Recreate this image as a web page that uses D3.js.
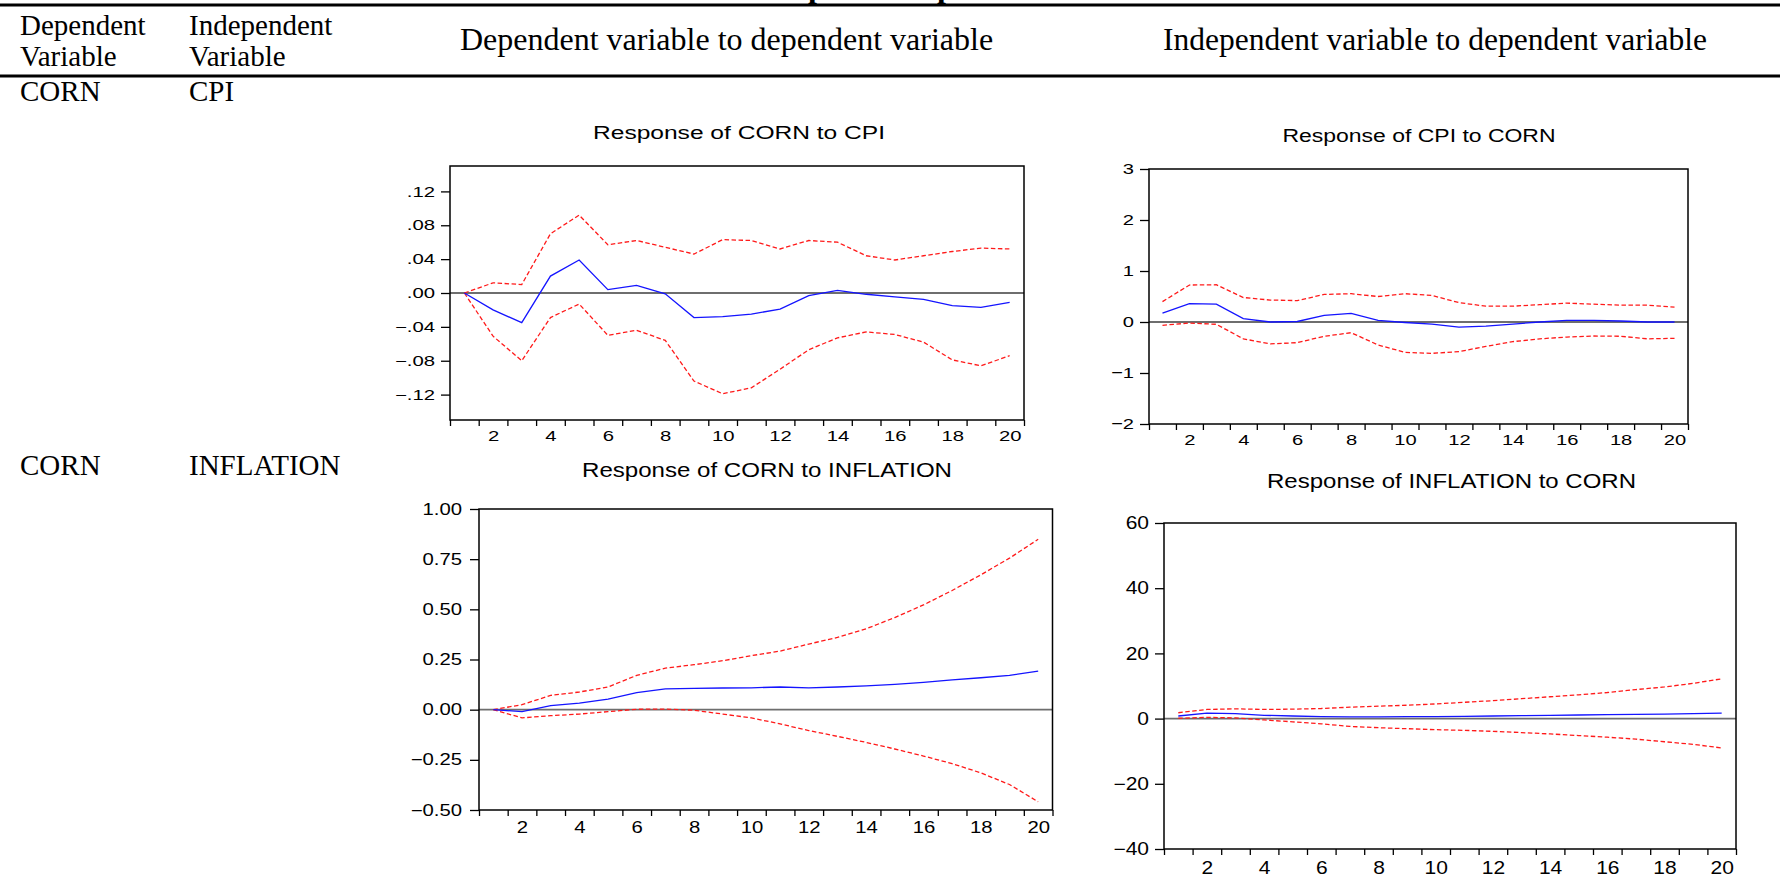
<!DOCTYPE html>
<html>
<head>
<meta charset="utf-8">
<script src="https://cdn.jsdelivr.net/npm/d3@7"></script>
<style>
  html, body { margin: 0; padding: 0; background: #fff; }
  svg { display: block; }
</style>
</head>
<body>
<svg id="fig" width="1780" height="878"></svg>
<script>
// ---- data -------------------------------------------------------------
const periods = [1, 2, 3, 4, 5, 6, 7, 8, 9, 10, 11, 12, 13, 14, 15, 16, 17, 18, 19, 20];
const xTickLabels = [2, 4, 6, 8, 10, 12, 14, 16, 18, 20];

// Response of CORN to CPI
const cornCpiResp  = [0, -0.020, -0.035, 0.020, 0.039, 0.004, 0.009, -0.001, -0.029, -0.028, -0.025, -0.019, -0.003, 0.003, -0.0015, -0.0045, -0.0075, -0.015, -0.017, -0.011];
const cornCpiUpper = [0, 0.012, 0.010, 0.070, 0.092, 0.057, 0.062, 0.054, 0.046, 0.063, 0.062, 0.052, 0.062, 0.060, 0.044, 0.039, 0.044, 0.049, 0.053, 0.052];
const cornCpiLower = [0, -0.051, -0.080, -0.029, -0.013, -0.050, -0.044, -0.056, -0.104, -0.119, -0.112, -0.090, -0.067, -0.053, -0.046, -0.049, -0.058, -0.079, -0.086, -0.074];
const cornCpiTicks = [-0.12, -0.08, -0.04, 0, 0.04, 0.08, 0.12];

// Response of CPI to CORN
const cpiCornResp  = [0.176, 0.36, 0.35, 0.065, 0.0, 0.01, 0.13, 0.17, 0.03, -0.01, -0.04, -0.10, -0.08, -0.04, 0.0, 0.03, 0.03, 0.02, 0.0, 0.0];
const cpiCornUpper = [0.40, 0.725, 0.73, 0.48, 0.43, 0.42, 0.54, 0.555, 0.50, 0.555, 0.52, 0.38, 0.31, 0.31, 0.34, 0.37, 0.35, 0.33, 0.33, 0.29];
const cpiCornLower = [-0.065, -0.02, -0.045, -0.33, -0.43, -0.405, -0.28, -0.21, -0.45, -0.595, -0.615, -0.58, -0.48, -0.385, -0.33, -0.295, -0.275, -0.28, -0.33, -0.32];
const cpiCornTicks = [-2, -1, 0, 1, 2, 3];

// Response of CORN to INFLATION
const cornInflResp  = [0, -0.010, 0.020, 0.033, 0.053, 0.085, 0.104, 0.106, 0.108, 0.109, 0.113, 0.109, 0.113, 0.119, 0.126, 0.136, 0.148, 0.159, 0.171, 0.192];
const cornInflUpper = [0, 0.025, 0.071, 0.088, 0.113, 0.171, 0.207, 0.224, 0.244, 0.269, 0.292, 0.327, 0.360, 0.403, 0.459, 0.522, 0.594, 0.672, 0.755, 0.849];
const cornInflLower = [0, -0.041, -0.030, -0.022, -0.010, 0.002, 0.003, -0.003, -0.022, -0.041, -0.071, -0.104, -0.133, -0.163, -0.196, -0.231, -0.269, -0.315, -0.373, -0.459];
const cornInflTicks = [-0.50, -0.25, 0, 0.25, 0.50, 0.75, 1.00];

// Response of INFLATION to CORN
const inflCornResp  = [0.8, 1.7, 1.5, 1.0, 0.8, 0.6, 0.5, 0.5, 0.6, 0.6, 0.7, 0.8, 0.9, 1.0, 1.1, 1.2, 1.3, 1.4, 1.5, 1.7];
const inflCornUpper = [1.8, 2.8, 3.0, 2.8, 2.9, 3.1, 3.5, 3.8, 4.1, 4.5, 5.0, 5.5, 6.1, 6.7, 7.3, 8.0, 8.9, 9.7, 10.8, 12.2];
const inflCornLower = [0.1, 0.4, 0.2, -0.4, -1.0, -1.6, -2.4, -2.8, -3.1, -3.4, -3.6, -3.9, -4.3, -4.7, -5.2, -5.7, -6.3, -7.1, -7.9, -9.0];
const inflCornTicks = [-40, -20, 0, 20, 40, 60];

// table text
const tableTitle = "Impulse Response";
const headDep = ["Dependent", "Variable"];
const headIndep = ["Independent", "Variable"];
const headCol3 = "Dependent variable to dependent variable";
const headCol4 = "Independent variable to dependent variable";
const rowDep = ["CORN", "CORN"];
const rowIndep = ["CPI", "INFLATION"];

// ---- drawing -----------------------------------------------------------
const svg = d3.select("#fig");
const SERIF = "'Liberation Serif','Times New Roman',serif";
const SANS = "'Liberation Sans',Arial,sans-serif";

function label(x, y, s, size, opts = {}) {
  return svg.append("text")
    .attr("x", x).attr("y", y)
    .attr("font-family", opts.family || SERIF)
    .attr("font-size", size)
    .attr("font-weight", opts.weight || "normal")
    .attr("fill", "#000")
    .text(s);
}

// table rules
svg.append("line").attr("x1", 0).attr("x2", 1780).attr("y1", 5).attr("y2", 5)
  .attr("stroke", "#000").attr("stroke-width", 3);
svg.append("line").attr("x1", 0).attr("x2", 1780).attr("y1", 76).attr("y2", 76)
  .attr("stroke", "#000").attr("stroke-width", 3);

// caption running off the top edge
label(769, -3, tableTitle, 32, { weight: "bold" });

// header cells
label(20, 35, headDep[0], 29);
label(20, 66, headDep[1], 29);
label(189, 35, headIndep[0], 29);
label(189, 66, headIndep[1], 29);
label(460, 50, headCol3, 32);
label(1163, 50, headCol4, 31.5);

// row cells
label(20, 101, rowDep[0], 29);
label(189, 101, rowIndep[0], 29);
label(20, 475, rowDep[1], 29);
label(189, 475, rowIndep[1], 29);

// tick formats
const fmtDot = d => (d === 0 ? ".00" : d3.format(".2f")(d).replace("0.", "."));
const fmtInt = d3.format("d");
const fmt2 = d3.format(".2f");

const panels = [
  { title: "Response of CORN to CPI", resp: cornCpiResp, upper: cornCpiUpper, lower: cornCpiLower,
    ticks: cornCpiTicks, domain: [-0.15, 0.15], fmt: fmtDot,
    L: 450, R: 1024, T: 166, B: 420,
    titleX: 739, titleY: 139, titleSize: 17.5, titleLen: 292,
    fs: 14.5, sx: 1.4, xlabBase: 441, ygap: 15 },
  { title: "Response of CPI to CORN", resp: cpiCornResp, upper: cpiCornUpper, lower: cpiCornLower,
    ticks: cpiCornTicks, domain: [-2, 3], fmt: fmtInt,
    L: 1149, R: 1688, T: 169, B: 424,
    titleX: 1419, titleY: 142, titleSize: 17.5, titleLen: 273,
    fs: 15.5, sx: 1.3, xlabBase: 445, ygap: 15 },
  { title: "Response of CORN to INFLATION", resp: cornInflResp, upper: cornInflUpper, lower: cornInflLower,
    ticks: cornInflTicks, domain: [-0.5, 1.0], fmt: fmt2,
    L: 479, R: 1052.5, T: 509, B: 810,
    titleX: 767, titleY: 477, titleSize: 19.5, titleLen: 370,
    fs: 16, sx: 1.27, xlabBase: 833, ygap: 17 },
  { title: "Response of INFLATION to CORN", resp: inflCornResp, upper: inflCornUpper, lower: inflCornLower,
    ticks: inflCornTicks, domain: [-40, 60], fmt: fmtInt,
    L: 1164, R: 1736, T: 523, B: 849,
    titleX: 1451.5, titleY: 488, titleSize: 21, titleLen: 369,
    fs: 17.5, sx: 1.2, xlabBase: 874, ygap: 15 }
];

const boundaries = d3.range(0.5, 21, 1);

panels.forEach(p => {
  const g = svg.append("g");
  const x = d3.scaleLinear().domain([0.5, 20.5]).range([p.L, p.R]);
  const y = d3.scaleLinear().domain(p.domain).range([p.B, p.T]);

  // zero line
  g.append("line")
    .attr("x1", p.L).attr("x2", p.R).attr("y1", y(0)).attr("y2", y(0))
    .attr("stroke", "#6e6e6e").attr("stroke-width", 1.8);

  const line = d3.line().x((d, i) => x(periods[i])).y(d => y(d));

  [p.upper, p.lower].forEach(series => {
    g.append("path").datum(series).attr("d", line)
      .attr("fill", "none").attr("stroke", "#ff1a1a")
      .attr("stroke-width", 1.3).attr("stroke-dasharray", "4.5,2.5");
  });
  g.append("path").datum(p.resp).attr("d", line)
    .attr("fill", "none").attr("stroke", "#1414ff").attr("stroke-width", 1.3);

  // frame
  g.append("rect")
    .attr("x", p.L).attr("y", p.T).attr("width", p.R - p.L).attr("height", p.B - p.T)
    .attr("fill", "none").attr("stroke", "#000").attr("stroke-width", 1.5);

  // x ticks at period boundaries
  const xt = g.append("g").attr("transform", `translate(0,${p.B})`)
    .call(d3.axisBottom(x).tickValues(boundaries).tickSize(6).tickFormat(""));
  xt.select(".domain").remove();
  xt.selectAll("line").attr("stroke", "#000").attr("stroke-width", 1.3);

  // x labels on even periods (text widened to the chart's aspect)
  const xl = g.append("g").attr("transform", `translate(0,${p.B})`)
    .call(d3.axisBottom(x).tickValues(xTickLabels).tickSize(0)
      .tickPadding(p.xlabBase - p.B - 0.71 * p.fs).tickFormat(fmtInt));
  xl.select(".domain").remove();
  xl.selectAll("text").attr("font-family", SANS).attr("font-size", p.fs)
    .attr("fill", "#000").attr("transform", `scale(${p.sx},1)`);

  // y axis
  const ya = g.append("g").attr("transform", `translate(${p.L},0)`)
    .call(d3.axisLeft(y).tickValues(p.ticks).tickSize(9).tickPadding(p.ygap - 9).tickFormat(p.fmt));
  ya.select(".domain").remove();
  ya.selectAll("line").attr("stroke", "#000").attr("stroke-width", 1.3);
  ya.selectAll("text").attr("font-family", SANS).attr("font-size", p.fs)
    .attr("fill", "#000").attr("x", -p.ygap / p.sx).attr("transform", `scale(${p.sx},1)`);

  // chart title
  g.append("text")
    .attr("x", p.titleX - p.titleLen / 2).attr("y", p.titleY)
    .attr("font-family", SANS).attr("font-size", p.titleSize).attr("fill", "#000")
    .attr("textLength", p.titleLen).attr("lengthAdjust", "spacingAndGlyphs")
    .text(p.title);
});
</script>
</body>
</html>
